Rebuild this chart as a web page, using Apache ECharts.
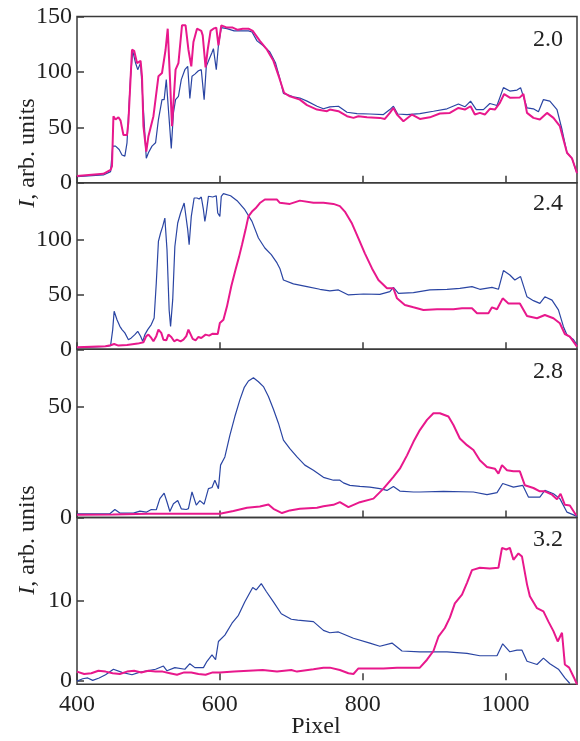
<!DOCTYPE html>
<html><head><meta charset="utf-8">
<script src="https://cdn.jsdelivr.net/npm/echarts@6/dist/echarts.min.js"></script>
<style>html,body{margin:0;padding:0;background:#fff}#c{width:580px;height:741px}</style>
</head><body><div id="c"></div>
<script>
// ---- data (x = pixel, y = intensity) ----
const panelLabels = ['2.0', '2.4', '2.8', '3.2'];
const xTicks = [400, 600, 800, 1000];
const yTicks1 = [0, 50, 100, 150];
const yTicks2 = [0, 50, 100];
const yTicks3 = [0, 50];
const yTicks4 = [0, 10];

const p1Blue = [[400,5.5],[437,7],[447,10],[450,33],[454,33],[459,30],[463,25],[467,24],[470,36],[475,96],[478,119],[482,108],[485,102],[489,108],[493,66],[497,22],[500,27],[505,33],[510,36],[514,57],[519,75],[522,75],[525,93],[528,66],[532,31],[535,63],[538,75],[542,78],[546,93],[551,102],[555,105],[558,76],[561,96],[565,98],[570,101],[574,102],[578,75],[581,105],[585,111.5],[589,117.5],[591,121],[595,102],[598,124],[602,140],[610,139],[620,137],[630,137],[640,137],[645,136],[652,128],[660,124],[670,118],[678,108],[684,94],[689,80.6],[703,77.6],[712,76.4],[722,73.6],[736,69],[745,66.7],[754,68.5],[766,69],[778,63.6],[792,62.4],[810,62],[829,61.5],[838,66],[843,69],[849,62],[862,61.5],[880,62.4],[899,64.5],[918,66.7],[934,71],[943,68.5],[951,73.6],[959,66],[969,66],[978,71.5],[988,69.7],[997,85.8],[1006,82.7],[1016,83.6],[1021,85.8],[1030,67.6],[1039,66.7],[1046,64],[1053,75],[1062,73.6],[1072,66],[1079,48],[1086,27],[1093,22],[1100,8.5]];
const p1Pink = [[400,6],[437,8],[447,11.5],[449,15],[451,60],[454,57],[458,59],[461,56],[465,43],[470,43],[472,55],[477,120],[480,119],[484,108],[489,110],[491,96],[493,51],[497,28],[500,42],[507,60],[514,96],[519,99],[524,120],[527,139],[530,96],[533,51],[538,102],[542,108],[547,142],[552,142],[556,120],[560,105],[563,127],[568,139],[574,137],[576,133],[580,104],[583,120],[587,137],[591,139],[595,140],[598,124],[602,142],[610,140],[618,140],[625,138],[632,139],[640,139],[646,137],[656,128],[666,120],[675,110],[683,95],[690,81],[698,78],[712,75],[722,70],[736,66],[750,64.5],[754,66],[766,64.5],[778,60],[787,58.5],[794,60],[806,59],[824,58.5],[831,57.5],[838,63],[843,67.5],[848,61.5],[857,55.5],[869,61.5],[880,57.5],[894,59],[908,62.5],[922,63],[934,67.5],[943,66],[951,69],[957,61.5],[964,63],[971,61.5],[978,66.7],[985,66],[992,72],[998,80],[1006,76.7],[1020,77],[1025,80],[1030,63],[1039,58.5],[1048,57],[1058,63],[1067,58.5],[1076,51],[1081,39],[1086,27],[1093,22],[1100,8.5]];

const p2Blue = [[400,1.5],[440,2.7],[447,3.4],[450,18],[452,34.8],[456,27],[460,21],[463,18],[467,15],[472,8.8],[476,10.4],[481,13.4],[485,16.5],[489,12],[492,7.3],[495,13.4],[499,18],[504,22.6],[508,28.7],[511,60.7],[514,98.8],[517,106.4],[520,112.5],[523,120],[526,91],[529,36],[531,21],[534,45.4],[537,94],[541,115.5],[545,124.7],[550,133.8],[552,135.4],[555,109.5],[557,95.7],[560,121.6],[564,138.4],[568,138.4],[571,137.5],[574,139.3],[577,127.7],[579,117],[581,124.7],[584,140],[590,139.3],[595,140.5],[597,124.7],[600,121.6],[602,140],[605,142.4],[615,140.5],[625,135.4],[635,127.7],[645,117],[654,101.8],[663,92.7],[672,86.6],[680,79],[684,74],[689,63.4],[703,59.8],[722,57.3],[740,54.9],[754,53.4],[766,54.3],[780,49.7],[801,50.6],[824,50.3],[838,52.7],[843,56.7],[850,51.2],[871,51.8],[894,54.3],[918,54.9],[936,55.8],[953,57.3],[964,54.9],[981,56.7],[990,54.9],[997,72],[1006,68],[1013,63.4],[1021,66.5],[1030,48],[1039,44.5],[1048,42],[1055,48],[1065,45],[1074,36],[1081,20.7],[1086,13],[1095,9],[1100,4]];
const p2Pink = [[400,1.8],[440,2.7],[447,3.7],[452,4.9],[458,3.4],[470,4],[485,5.2],[493,6.4],[497,12],[500,13.4],[504,10.4],[507,7.3],[511,12],[514,18],[518,15],[521,8.8],[525,8.2],[528,13.4],[532,11.3],[536,7.3],[540,8.8],[545,7.3],[549,8.8],[553,12],[556,18],[562,9.5],[566,8.2],[570,11.3],[574,10.4],[580,13.4],[585,12.5],[590,14.3],[597,14],[600,24],[605,27],[610,39.3],[616,57.6],[622,73],[627,85],[631,95.7],[636,109.5],[640,121.6],[645,126],[650,129],[656,133.8],[663,137],[670,137],[680,137],[684,134],[698,133],[712,136],[731,134],[745,134],[759,133],[768,131],[775,126],[785,115],[794,101.5],[803,87.8],[813,74],[822,63.4],[834,55.8],[843,55.8],[848,46.6],[859,40.5],[871,38.4],[885,36],[904,36.6],[927,36.6],[939,37.5],[953,37.5],[960,33],[976,33],[981,38.4],[988,36.6],[996,46.6],[1004,42],[1020,42],[1030,30.5],[1044,28.4],[1055,31.4],[1067,28.4],[1076,23.8],[1083,14],[1090,11.6],[1100,2.4]];

const p3Blue = [[400,1.7],[446,1.7],[453,3.6],[460,2],[479,2],[488,2.9],[497,2.4],[504,3.6],[511,3.5],[516,8.5],[522,11],[526,7],[530,2.7],[535,6.2],[541,7.7],[546,3.9],[553,3.6],[556,4],[561,11.5],[567,5.6],[572,7.6],[578,6],[584,13],[589,13.5],[593,16.8],[598,13],[601,23.6],[607,27.3],[614,37],[621,45.5],[628,53],[634,58.5],[640,61.5],[647,63],[654,61.2],[661,59],[668,54.5],[675,48.8],[682,42.5],[689,34.9],[698,31],[708,27.3],[719,23.6],[731,21.3],[745,18.1],[759,16.8],[768,16.8],[773,15.6],[782,14.5],[796,14],[810,13.7],[824,13],[834,12.2],[843,14],[852,11.9],[871,11.5],[880,11.5],[913,11.8],[955,11.5],[974,10.3],[988,11.2],[996,15.3],[1011,13.7],[1024,14.5],[1032,9.2],[1048,9.2],[1055,12.2],[1067,10.7],[1076,8.5],[1086,2.4],[1100,0.5]];
const p3Pink = [[400,1.2],[450,1.4],[500,1.7],[544,1.7],[600,1.7],[619,2.9],[638,4.4],[656,5],[668,5.9],[675,3.9],[687,2],[698,3.2],[712,3.9],[736,4.4],[745,5.1],[759,5.7],[768,6.9],[780,4.7],[796,6.9],[815,8.5],[829,13],[843,18.3],[852,22],[862,28],[871,34.1],[880,39.4],[890,44],[899,47],[908,47],[920,45.5],[927,41.7],[936,35.6],[946,32.6],[955,30.4],[964,25.8],[974,22.8],[985,22],[990,19.8],[995,23.6],[1002,21.3],[1011,20.8],[1020,20.8],[1027,14.5],[1039,13.3],[1048,11.8],[1055,11.8],[1065,10.3],[1072,8.2],[1077,10.7],[1083,5.7],[1090,5.4],[1099,0.9]];

const p4Blue = [[400,-0.1],[408,0.2],[415,0.3],[422,0],[431,0.3],[440,0.7],[451,1.4],[463,1],[477,0.7],[487,1],[498,1.2],[510,1.4],[521,1.8],[526,1.2],[537,1.6],[551,1.4],[558,2.1],[565,1.6],[577,1.6],[582,2.4],[589,3.2],[594,2.6],[598,4.9],[607,5.7],[617,7.2],[626,8.2],[635,9.9],[646,11.7],[651,11.4],[658,12.2],[665,11.2],[675,9.9],[686,8.4],[700,7.7],[709,7.6],[731,7.4],[745,6.3],[754,6],[766,6.1],[787,5.3],[810,4.7],[824,4.3],[841,4.7],[855,3.7],[880,3.6],[918,3.6],[946,3.4],[964,3.1],[988,3.1],[996,4.6],[1006,3.6],[1016,3.8],[1023,3.8],[1030,2.4],[1044,2],[1053,2.8],[1062,2.1],[1074,1.4],[1083,0.3],[1090,-0.4]];
const p4Pink = [[400,1.1],[410,0.8],[420,0.9],[430,1.2],[440,1.1],[450,0.9],[460,0.8],[470,1.1],[480,1.2],[490,1.0],[500,1.2],[510,1.1],[520,1.1],[530,0.9],[540,0.7],[550,1.0],[560,1.0],[570,0.8],[580,0.7],[590,1.0],[600,1.0],[620,1.1],[640,1.2],[660,1.3],[680,1.1],[700,1.3],[708,1.1],[731,1.4],[745,1.6],[754,1.6],[768,1.3],[780,0.9],[787,0.8],[794,1.5],[810,1.5],[829,1.5],[848,1.6],[880,1.6],[890,2.6],[899,3.7],[906,5.5],[915,6.6],[922,7.9],[929,9.7],[939,10.8],[946,12.3],[953,13.9],[964,14.2],[978,14.1],[990,14.2],[995,16.7],[1001,16.5],[1006,16.7],[1011,15.2],[1018,16],[1023,15.6],[1030,12.1],[1034,10.6],[1044,9.1],[1053,8.7],[1060,7.4],[1067,6.2],[1073,4.9],[1079,6],[1083,2],[1089,1.6],[1096,0.3],[1100,-0.5]];

// ---- chart ----
const FONT = "'Liberation Serif', 'Times New Roman', serif";
const TXT = '#222';
const BLUE = '#2a45a3';
const PINK = '#e8188c';
const grids = [
  {top: 16.5, height: 166.2},
  {top: 182.7, height: 166.6},
  {top: 349.3, height: 168.2},
  {top: 517.5, height: 166.8}
].map(g => ({left: 77, width: 500, top: g.top, height: g.height, show: true,
  borderColor: '#3a3a3a', borderWidth: 1.5, backgroundColor: 'transparent'}));

const yRanges = [[0, 150], [0, 152.4], [0, 75.8], [-0.5, 20.53]];
const yTickSets = [yTicks1, yTicks2, yTicks3, yTicks4];

const xAxes = grids.map((g, i) => ({
  type: 'value', gridIndex: i, min: 400, max: 1100, interval: 200,
  axisLine: {show: false}, splitLine: {show: false},
  axisTick: {show: true, inside: true, length: 7, customValues: xTicks,
    lineStyle: {color: '#3a3a3a', width: 1.5}},
  axisLabel: {show: i === 3, customValues: xTicks, margin: 8, fontSize: 24,
    fontFamily: FONT, color: TXT, formatter: v => String(v)}
}));
const yAxes = grids.map((g, i) => ({
  type: 'value', gridIndex: i, min: yRanges[i][0], max: yRanges[i][1],
  axisLine: {show: false}, splitLine: {show: false},
  axisTick: {show: true, inside: true, length: 7, customValues: yTickSets[i],
    lineStyle: {color: '#3a3a3a', width: 1.5}},
  axisLabel: {show: true, customValues: yTickSets[i], margin: 5, fontSize: 24,
    fontFamily: FONT, color: TXT, formatter: v => String(v)}
}));

const seriesDefs = [
  [p1Blue, 0, BLUE, 1.2], [p1Pink, 0, PINK, 2],
  [p2Blue, 1, BLUE, 1.2], [p2Pink, 1, PINK, 2],
  [p3Blue, 2, BLUE, 1.2], [p3Pink, 2, PINK, 2],
  [p4Blue, 3, BLUE, 1.2], [p4Pink, 3, PINK, 2]
];
const series = seriesDefs.map(([d, gi, c, w]) => ({
  type: 'line', xAxisIndex: gi, yAxisIndex: gi, data: d,
  showSymbol: false, symbol: 'none', smooth: false, clip: true,
  lineStyle: {color: c, width: w}, itemStyle: {color: c}, z: c === PINK ? 3 : 2
}));

const labelYs = [40, 204, 372, 540];
const graphic = panelLabels.map((t, i) => ({
  type: 'text', x: 563, y: labelYs[i],
  style: {text: t, font: '24px ' + FONT, fill: TXT, textAlign: 'right',
    textVerticalAlign: 'middle', verticalAlign: 'middle'}
}));
[153, 540].forEach(cy => graphic.push({
  type: 'text', x: 28, y: cy, rotation: Math.PI / 2,
  style: {text: '{i|I}, arb. units', font: '24px ' + FONT, fill: TXT,
    textAlign: 'center', textVerticalAlign: 'middle', verticalAlign: 'middle',
    rich: {i: {fontStyle: 'italic', fontSize: 24, fontFamily: FONT, fill: TXT, color: TXT}}}
}));
graphic.push({
  type: 'text', x: 316, y: 727,
  style: {text: 'Pixel', font: '24px ' + FONT, fill: TXT, textAlign: 'center',
    textVerticalAlign: 'middle', verticalAlign: 'middle'}
});

const chart = echarts.init(document.getElementById('c'), null, {renderer: 'canvas'});
chart.setOption({
  animation: false,
  backgroundColor: '#fff',
  grid: grids, xAxis: xAxes, yAxis: yAxes, series: series, graphic: graphic
});
</script></body></html>
